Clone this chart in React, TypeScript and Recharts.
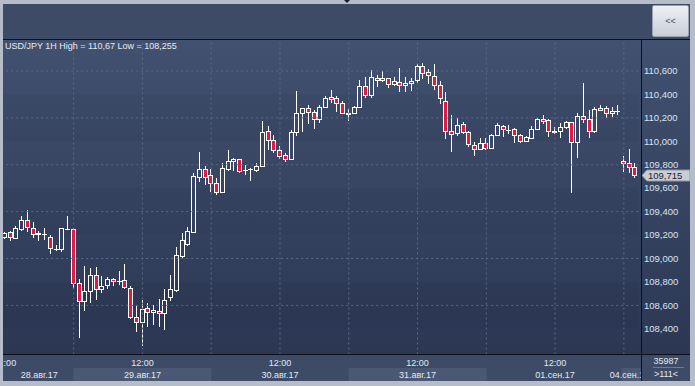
import React from 'react'
import { ComposedChart, Bar, XAxis, YAxis, ReferenceLine, ReferenceArea } from 'recharts'

// USD/JPY hourly candles, 28.08 12:00 -> 04.09 02:00 (111 bars)
const opens = [
  109.18, 109.225, 109.175, 109.25, 109.33, 109.26, 109.215, 109.21, 109.186, 109.08, 109.08, 109.255,
  109.25, 108.79, 108.635, 108.72, 108.857, 108.74, 108.77, 108.823, 108.811, 108.814, 108.748, 108.498,
  108.46, 108.575, 108.541, 108.55, 108.533, 108.674, 108.734, 109.024, 109.127, 109.23, 109.698, 109.764,
  109.713, 109.642, 109.57, 109.766, 109.83, 109.847, 109.755, 109.761, 109.753, 109.787, 110.088, 110.009,
  109.923, 109.881, 109.847, 110.08, 110.244, 110.282, 110.248, 110.193, 110.29, 110.376, 110.367, 110.324,
  110.238, 110.239, 110.29, 110.469, 110.398, 110.543, 110.523, 110.538, 110.487, 110.504, 110.478, 110.495,
  110.52, 110.64, 110.589, 110.555, 110.478, 110.341, 110.085, 110.068, 110.145, 110.077, 109.966, 109.932,
  109.983, 109.94, 110.051, 110.133, 110.1, 110.103, 110.051, 110.0, 110.026, 110.103, 110.188, 110.179,
  110.087, 110.085, 110.119, 110.162, 109.992, 110.213, 110.188, 110.085, 110.265, 110.282, 110.239, 110.258,
  109.835, 109.812, 109.778,
]
const highs = [
  109.225, 109.237, 109.277, 109.363, 109.414, 109.31, 109.237, 109.26, 109.2, 109.113, 109.26, 109.363,
  109.263, 108.823, 108.94, 108.917, 108.925, 108.848, 108.84, 108.83, 108.896, 108.957, 108.768, 108.595,
  108.646, 108.623, 108.603, 108.652, 108.74, 108.86, 109.098, 109.215, 109.272, 109.732, 109.911, 109.79,
  109.764, 109.685, 109.812, 109.926, 109.858, 109.847, 109.798, 109.775, 109.812, 110.173, 110.131, 110.051,
  109.958, 109.898, 110.097, 110.429, 110.282, 110.307, 110.267, 110.307, 110.387, 110.438, 110.387, 110.341,
  110.273, 110.304, 110.52, 110.546, 110.608, 110.566, 110.6, 110.538, 110.546, 110.623, 110.546, 110.538,
  110.666, 110.67, 110.614, 110.657, 110.512, 110.418, 110.222, 110.196, 110.162, 110.085, 109.992, 110.026,
  110.026, 110.06, 110.154, 110.139, 110.139, 110.111, 110.06, 110.043, 110.131, 110.196, 110.222, 110.188,
  110.119, 110.154, 110.171, 110.162, 110.239, 110.5, 110.265, 110.29, 110.307, 110.299, 110.29, 110.307,
  109.872, 109.932, 109.812,
]
const lows = [
  109.17, 109.152, 109.167, 109.232, 109.23, 109.178, 109.152, 109.16, 109.036, 109.067, 109.058, 109.24,
  108.743, 108.324, 108.549, 108.624, 108.649, 108.703, 108.743, 108.768, 108.771, 108.737, 108.487, 108.376,
  108.255, 108.418, 108.433, 108.418, 108.39, 108.64, 108.714, 109.007, 109.109, 109.215, 109.65, 109.627,
  109.568, 109.542, 109.57, 109.749, 109.749, 109.732, 109.713, 109.664, 109.74, 109.778, 109.926, 109.898,
  109.852, 109.82, 109.847, 110.045, 110.08, 110.148, 110.105, 110.159, 110.29, 110.33, 110.248, 110.23,
  110.173, 110.239, 110.29, 110.372, 110.367, 110.466, 110.504, 110.458, 110.469, 110.423, 110.418, 110.429,
  110.487, 110.529, 110.487, 110.435, 110.316, 110.017, 109.906, 110.043, 110.06, 109.949, 109.872, 109.923,
  109.923, 109.932, 110.043, 110.04, 110.06, 109.983, 109.983, 109.992, 110.026, 110.097, 110.145, 110.034,
  110.06, 110.026, 110.103, 109.557, 109.855, 110.154, 110.026, 110.068, 110.256, 110.196, 110.205, 110.222,
  109.736, 109.727, 109.685,
]
const closes = [
  109.215, 109.18, 109.26, 109.33, 109.265, 109.21, 109.21, 109.205, 109.09, 109.085, 109.257, 109.25,
  108.79, 108.635, 108.72, 108.857, 108.737, 108.763, 108.823, 108.806, 108.809, 108.754, 108.5, 108.46,
  108.567, 108.54, 108.558, 108.535, 108.643, 108.74, 109.027, 109.158, 109.235, 109.704, 109.764, 109.698,
  109.642, 109.57, 109.77, 109.83, 109.847, 109.75, 109.751, 109.763, 109.787, 110.08, 110.009, 109.923,
  109.877, 109.847, 110.08, 110.239, 110.282, 110.248, 110.193, 110.293, 110.37, 110.359, 110.324, 110.24,
  110.235, 110.29, 110.469, 110.393, 110.551, 110.523, 110.538, 110.487, 110.512, 110.478, 110.495, 110.512,
  110.64, 110.58, 110.563, 110.478, 110.367, 110.085, 110.06, 110.137, 110.077, 109.974, 109.932, 109.983,
  109.94, 110.051, 110.137, 110.103, 110.095, 110.051, 110.0, 110.034, 110.103, 110.188, 110.171, 110.085,
  110.083, 110.119, 110.162, 109.992, 110.213, 110.188, 110.085, 110.273, 110.282, 110.239, 110.256, 110.255,
  109.818, 109.778, 109.715,
]

const priceTicks = [108.4, 108.6, 108.8, 109.0, 109.2, 109.4, 109.6, 109.8, 110.0, 110.2, 110.4, 110.6]
const gridPrices = [108.6, 109.0, 109.4, 109.8, 110.2, 110.6]
const bandPrices = [[110.4, 110.0], [109.6, 109.2], [108.8, 108.4]]
const gridHours = [12, 24, 36, 48, 60, 72, 84, 96, 108]
const timeTicks = [0, 24, 48, 72, 96]
const timeLabels = ['12:00', '12:00', '12:00', '12:00', '12:00']
const dateTicks = [6, 24, 48, 72, 96, 109]
const dateLabels = ['28.авг.17', '29.авг.17', '30.авг.17', '31.авг.17', '01.сен.17', '04.сен.17']
const lastPrice = 109.715
const priceMin = 108.181
const priceMax = 110.873

const FONT = "'Liberation Sans', Arial, sans-serif"
const TEXT = '#e2e8f2'
const GRID = '#5a6986'

const data = opens.map((o, i) => ({
  i,
  o,
  h: highs[i],
  l: lows[i],
  c: closes[i],
  range: [lows[i], highs[i]],
}))

function Candle(props: any) {
  const { x, y, width, height, payload } = props
  if (!payload) return null
  const { o, h, l, c } = payload
  const cx = Math.floor(x + width / 2)
  const span = h - l || 1
  const yOf = (v: number) => y + ((h - v) / span) * height
  const top = Math.round(yOf(Math.max(o, c)))
  const bot = Math.round(yOf(Math.min(o, c)))
  const yh = Math.round(y)
  const yl = Math.round(y + height)
  const up = c >= o
  return (
    <g>
      {yh < top && <line x1={cx + 0.5} x2={cx + 0.5} y1={yh} y2={top} stroke="#fff" />}
      {yl > bot && <line x1={cx + 0.5} x2={cx + 0.5} y1={bot + 1} y2={yl} stroke="#fff" />}
      {bot - top < 1 ? (
        <line x1={cx - 2} x2={cx + 3} y1={top + 0.5} y2={top + 0.5} stroke="#fff" />
      ) : (
        <rect x={cx - 1.5} y={top + 0.5} width={4} height={bot - top} fill={up ? 'none' : '#e3173f'} stroke="#fff" />
      )}
    </g>
  )
}

function PriceTick(props: any) {
  const { y, payload } = props
  return (
    <text x={644} y={y + 3.3} fontSize={9.5} fontFamily={FONT} fill="#d9e2f1">
      {payload.value.toFixed(3).replace('.', ',')}
    </text>
  )
}

function TimeTick(props: any) {
  const { x, payload } = props
  const k = timeTicks.indexOf(payload.value)
  return (
    <text x={x} y={366} textAnchor="middle" fontSize={9} fontFamily={FONT} fill={TEXT}>
      {timeLabels[k]}
    </text>
  )
}

function DateTick(props: any) {
  const { x, payload } = props
  const k = dateTicks.indexOf(payload.value)
  const light = k === 1 || k === 3 || k === 5
  const left = k === 5 ? x - 8 : x - 69
  const right = k === 5 ? 641 : x + 69
  return (
    <g>
      {light && <rect x={left} y={368} width={right - left} height={13} fill="#4a5873" />}
      <text x={x} y={377.5} textAnchor="middle" fontSize={9} fontFamily={FONT} fill={TEXT}>
        {dateLabels[k]}
      </text>
    </g>
  )
}

function PriceTag(props: any) {
  const y = Math.round(props.viewBox?.y ?? 0)
  return (
    <g>
      <path
        d={`M642 ${y + 0.5} L647 ${y - 5} L690 ${y - 5} L690 ${y + 6} L647 ${y + 6} Z`}
        fill="#c9cdd5"
        stroke="#8e96a4"
      />
      <text x={648} y={y + 3.8} fontSize={9.5} fontFamily={FONT} fill="#1c2230">
        {lastPrice.toFixed(3).replace('.', ',')}
      </text>
    </g>
  )
}

const abs = (l: number, t: number, w: number, h: number, extra: React.CSSProperties = {}): React.CSSProperties => ({
  position: 'absolute',
  left: l,
  top: t,
  width: w,
  height: h,
  ...extra,
})

export default function App() {
  return (
    <div style={{ position: 'absolute', left: 0, top: 0, width: 695, height: 386, background: '#b5bdca', overflow: 'hidden' }}>
      <div style={abs(3, 4, 687, 377, { background: '#3d4b66' })} />
      <div style={abs(3, 40, 687, 314, { background: 'linear-gradient(#425170, #2b3753)' })} />

      <div style={abs(0, 0, 695, 386)}>
        <ComposedChart
          width={695}
          height={386}
          data={data}
          margin={{ top: 39, right: 6.8, bottom: 4.5, left: 2 }}
          barCategoryGap={0}
        >
          <XAxis
            dataKey="i"
            type="category"
            ticks={timeTicks}
            interval={0}
            tick={<TimeTick />}
            axisLine={false}
            tickLine={false}
            height={13}
          />
          <XAxis
            dataKey="i"
            type="category"
            xAxisId="date"
            ticks={dateTicks}
            interval={0}
            tick={<DateTick />}
            axisLine={false}
            tickLine={false}
            height={14}
          />
          <YAxis
            orientation="right"
            type="number"
            domain={[priceMin, priceMax]}
            allowDataOverflow
            ticks={priceTicks}
            interval={0}
            tick={<PriceTick />}
            axisLine={false}
            tickLine={false}
            width={50}
          />
          {bandPrices.map(([a, b]) => (
            <ReferenceArea key={a} y1={a} y2={b} fill="#000" fillOpacity={0.035} stroke="none" />
          ))}
          {gridPrices.map((p) => (
            <ReferenceLine key={p} y={p} stroke={GRID} strokeDasharray="2 3" />
          ))}
          {gridHours.map((h) => (
            <ReferenceLine key={h} x={h} stroke={GRID} strokeDasharray="2 3" />
          ))}
          <Bar dataKey="range" barSize={5} shape={(p: any) => <Candle {...p} />} isAnimationActive={false} />
          <ReferenceLine y={lastPrice} stroke="none" ifOverflow="visible" label={<PriceTag />} />
        </ComposedChart>
      </div>

      {/* frame lines and panels */}
      <div style={abs(3, 39, 687, 1, { background: '#0c0f16' })} />
      <div style={abs(3, 354, 692, 1, { background: '#0c0f16' })} />
      <div style={abs(641, 355, 49, 26, { background: '#3d4b66' })} />
      <div style={abs(641, 39, 1, 342, { background: '#0c0f16' })} />
      <div style={abs(653, 367, 31, 1, { background: '#6f7c94' })} />
      <div style={abs(642, 355, 48, 12, { color: TEXT, font: `9px ${FONT}`, textAlign: 'center', lineHeight: '13px' })}>35987</div>
      <div style={abs(642, 368, 48, 12, { color: TEXT, font: `9px ${FONT}`, textAlign: 'center', lineHeight: '13px' })}>&gt;111&lt;</div>
      <div style={abs(0, 0, 3, 386, { background: '#b5bdca' })} />
      <div style={abs(690, 0, 5, 386, { background: '#b5bdca' })} />
      <div style={abs(0, 381, 695, 5, { background: '#b5bdca' })} />
      <div style={abs(344, 0, 0, 0, { borderLeft: '3px solid transparent', borderRight: '3px solid transparent', borderTop: '3px solid #1a1d24' })} />

      <div
        style={abs(652, 5, 37, 32, {
          background: 'linear-gradient(#eef0f3, #c9ced6)',
          border: '1px solid #9aa3b1',
          boxSizing: 'border-box',
          borderRadius: 2,
          color: '#4a505c',
          font: `9px ${FONT}`,
          textAlign: 'center',
          lineHeight: '30px',
        })}
      >
        &lt;&lt;
      </div>

      <div style={abs(5, 40, 300, 12, { color: '#e6eaf2', font: `9px ${FONT}`, lineHeight: '12px', whiteSpace: 'nowrap' })}>
        USD/JPY 1H High = 110,67 Low = 108,255
      </div>
    </div>
  )
}
